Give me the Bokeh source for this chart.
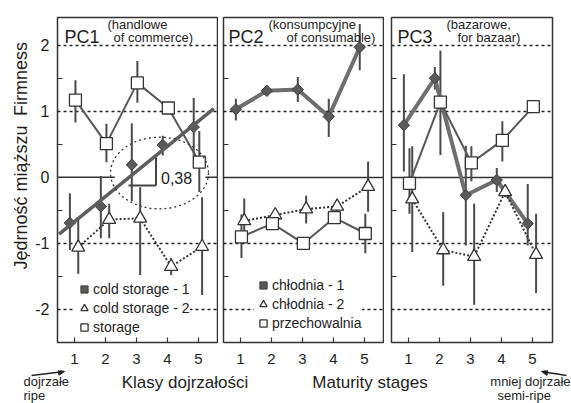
import math
from bokeh.plotting import figure
from bokeh.layouts import row, column
from bokeh.models import (Range1d, FixedTicker, Label, Arrow, NormalHead,
                          Legend, LegendItem)
from bokeh.embed import file_html
from bokeh.resources import INLINE

# ---------------- data ----------------
stages = [1, 2, 3, 4, 5]
y_ticks = [-2, -1, 0, 1, 2]
y_minor = [-1.5, -0.5, 0.5, 1.5]
y_tick_labels = {-2: "-2", -1: "-1", 0: "0", 1: "1", 2: "2"}
dashed_levels = [-2, -1, 1, 2]

# PC1 (handlowe / of commerce)
pc1_cs1 = [-0.69, -0.44, 0.19, 0.49, 0.76]
pc1_cs1_lo = [-1.10, -0.92, -0.36, 0.33, 0.32]
pc1_cs1_hi = [-0.24, 0.02, 0.82, 0.63, 1.20]
pc1_cs2 = [-1.06, -0.64, -0.62, -1.35, -1.05]
pc1_cs2_lo = [-1.46, -0.92, -1.48, -1.48, -1.78]
pc1_cs2_hi = [-0.64, -0.40, -0.15, -1.22, -0.30]
pc1_st = [1.17, 0.51, 1.43, 1.05, 0.23]
pc1_st_lo = [0.83, 0.23, 1.13, 1.05, -0.22]
pc1_st_hi = [1.47, 0.81, 1.76, 1.05, 0.70]
pc1_trend_slope = 0.38
pc1_trend_intercept = -1.05
pc1_trend_x = [0.5, 5.5]

# PC2 (konsumpcyjne / of consumable)
pc2_cs1 = [1.03, 1.31, 1.33, 0.92, 1.97]
pc2_cs1_lo = [0.86, 1.31, 1.14, 0.61, 1.62]
pc2_cs1_hi = [1.19, 1.31, 1.52, 1.19, 2.32]
pc2_cs2 = [-0.66, -0.57, -0.48, -0.44, -0.14]
pc2_cs2_lo = [-0.98, -0.65, -0.70, -0.52, -0.52]
pc2_cs2_hi = [-0.32, -0.49, -0.28, -0.36, 0.24]
pc2_st = [-0.90, -0.70, -1.00, -0.61, -0.85]
pc2_st_lo = [-1.22, -0.76, -1.00, -0.67, -1.15]
pc2_st_hi = [-0.56, -0.64, -1.00, -0.55, -0.55]

# PC3 (bazarowe / for bazaar)
pc3_cs1 = [0.79, 1.50, -0.27, -0.04, -0.70]
pc3_cs1_lo = [0.09, 1.33, -1.03, -0.22, -1.03]
pc3_cs1_hi = [1.56, 1.67, 0.48, 0.14, -0.10]
pc3_cs2 = [-0.33, -1.10, -1.20, -0.22, -1.17]
pc3_cs2_lo = [-1.13, -1.64, -1.93, -0.30, -1.75]
pc3_cs2_hi = [0.47, -0.53, -0.40, -0.14, -0.55]
pc3_st = [-0.09, 1.14, 0.22, 0.56, 1.07]
pc3_st_lo = [-0.55, 0.34, -0.06, 0.24, 1.07]
pc3_st_hi = [0.44, 1.92, 0.47, 0.85, 1.07]

# ---------------- layout helpers ----------------
FONT = "Liberation Sans"
TXT = "#1e1e1e"
FL = [57, 223, 391]      # frame left (page px)
FW = 161                 # frame width
FT, FB = 17, 342         # frame top / bottom (page px)
ROW_H = 370
X0, X1 = 0.45, 5.65
Y0, Y1 = -2.5, 2.42
DX_D, DX_T, DX_S = -0.15, 0.12, 0.03


def px_x(i, px):
    return X0 + (px - FL[i]) * (X1 - X0) / FW


def px_y(py):
    return Y1 - (py - FT) * (Y1 - Y0) / (FB - FT)


def lab(p, x, y, text, size="13px", align="left", angle=0.0):
    p.add_layout(Label(x=x, y=y, text=text, text_font=FONT, text_font_size=size,
                       text_color=TXT, text_align=align, text_baseline="middle",
                       angle=angle))


def panel(i, d, d_lo, d_hi, t, t_lo, t_hi, s, s_lo, s_hi, connect_d,
          legend_labels, title, sub1, sub2, width, bl, br, ylabels):
    p = figure(width=width, height=ROW_H, x_range=Range1d(X0, X1), y_range=Range1d(Y0, Y1),
               output_backend="svg", toolbar_location=None,
               min_border_left=bl, min_border_right=br, min_border_top=FT,
               min_border_bottom=ROW_H - FB,
               outline_line_color="#333333", outline_line_width=1.5,
               background_fill_color="white", border_fill_color="white")
    p.xgrid.visible = False
    p.ygrid.visible = False

    ax = p.xaxis[0]
    ax.ticker = FixedTicker(ticks=stages)
    ax.major_tick_in = 5
    ax.major_tick_out = 0
    ax.minor_tick_in = 0
    ax.minor_tick_out = 0
    ax.axis_line_color = None
    ax.major_tick_line_color = "#333333"
    ax.major_tick_line_width = 1.2
    ax.major_label_text_font = FONT
    ax.major_label_text_font_size = "15px"
    ax.major_label_text_color = TXT
    ax.major_label_standoff = 11

    ay = p.yaxis[0]
    ay.axis_line_color = None
    ay.major_tick_in = 0
    ay.major_tick_out = 0
    ay.minor_tick_in = 5
    ay.minor_tick_out = 0
    ay.minor_tick_line_color = "#333333"
    ay.minor_tick_line_width = 1.2
    if ylabels:
        ay.ticker = FixedTicker(ticks=y_ticks, minor_ticks=y_minor)
        ay.major_label_overrides = y_tick_labels
        ay.major_label_text_font = FONT
        ay.major_label_text_font_size = "16px"
        ay.major_label_text_color = TXT
        ay.major_label_standoff = 8
    else:
        ay.ticker = FixedTicker(ticks=[], minor_ticks=y_minor)
        ay.major_label_standoff = 0

    # reference lines
    p.hspan(y=dashed_levels, line_color="#222222", line_width=1.5, line_dash="3 3")
    if i == 0:
        p.segment(x0=[X0, px_x(0, 205)], x1=[2.3, X1], y0=[0, 0], y1=[0, 0],
                  line_color="#333333", line_width=1.5)
    else:
        p.hspan(y=[0], line_color="#333333", line_width=1.5)

    xd = [v + DX_D for v in stages]
    xt = [v + DX_T for v in stages]
    xs = [v + DX_S for v in stages]

    # error bars
    for xx, lo, hi in ((xd, d_lo, d_hi), (xt, t_lo, t_hi), (xs, s_lo, s_hi)):
        p.segment(x0=xx, x1=xx, y0=lo, y1=hi, line_color="#4a4a4a", line_width=2)

    # connecting lines
    if connect_d:
        p.line(xd, d, line_color="#6e6e6e", line_width=4)
    p.line(xs, s, line_color="#585858", line_width=2)
    p.line(xt, t, line_color="#333333", line_width=2, line_dash="2 2")

    rd = p.scatter(xd, d, marker="square", angle=math.pi / 4, size=8,
                   fill_color="#5a5a5a", line_color="#3c3c3c", line_width=1)
    rt = p.scatter(xt, t, marker="triangle", size=13, fill_color="white",
                   line_color="#333333", line_width=1.3)
    rs = p.scatter(xs, s, marker="square", size=12, fill_color="white",
                   line_color="#333333", line_width=1.3)

    # panel titles
    lab(p, px_x(i, [64, 228, 397][i]), px_y(36), title, size="18px")
    lab(p, px_x(i, [107, 268, 446][i]), px_y(24), sub1, size="13px")
    lab(p, px_x(i, [113, 286, 457][i]), px_y(36.5), sub2, size="13px")

    if legend_labels:
        items = [LegendItem(label=lbl, renderers=[r]) for lbl, r in zip(legend_labels, (rd, rt, rs))]
        loc = (18, 6) if i == 0 else (31, 10)
        lg = Legend(items=items, location=loc, orientation="vertical",
                    background_fill_color="white", background_fill_alpha=1.0,
                    border_line_color=None, padding=0, margin=0, spacing=1,
                    glyph_width=18, glyph_height=18, label_height=18, label_standoff=0,
                    label_text_font=FONT, label_text_font_size="14px", label_text_color=TXT)
        p.add_layout(lg)
    return p


f1 = panel(0, pc1_cs1, pc1_cs1_lo, pc1_cs1_hi, pc1_cs2, pc1_cs2_lo, pc1_cs2_hi,
           pc1_st, pc1_st_lo, pc1_st_hi, False,
           ["cold storage - 1", "cold storage - 2", "storage"],
           "PC1", "(handlowe", "of commerce)", 188, 27, 0, True)
f2 = panel(1, pc2_cs1, pc2_cs1_lo, pc2_cs1_hi, pc2_cs2, pc2_cs2_lo, pc2_cs2_hi,
           pc2_st, pc2_st_lo, pc2_st_hi, True,
           ["chłodnia - 1", "chłodnia - 2", "przechowalnia"],
           "PC2", "(konsumpcyjne", "of consumable)", 166, 5, 0, False)
f3 = panel(2, pc3_cs1, pc3_cs1_lo, pc3_cs1_hi, pc3_cs2, pc3_cs2_lo, pc3_cs2_hi,
           pc3_st, pc3_st_lo, pc3_st_hi, True, None,
           "PC3", "(bazarowe,", "for bazaar)", 187, 7, 19, False)

# PC1 extras: trend line, dotted ellipse, slope marker
trend_y = [pc1_trend_intercept + pc1_trend_slope * v for v in pc1_trend_x]
f1.line(pc1_trend_x, trend_y, line_color="#5e5e5e", line_width=3.5)
f1.ellipse(x=[px_x(0, 159)], y=[px_y(172.5)], width=[px_x(0, 208) - px_x(0, 110)],
           height=[px_y(136.7) - px_y(208.3)], fill_color=None, line_color="#333333",
           line_width=1.3, line_dash="2 3")
f1.segment(x0=[px_x(0, 128), px_x(0, 155.5)], y0=[px_y(185), px_y(185)],
           x1=[px_x(0, 155.5), px_x(0, 155.5)], y1=[px_y(185), px_y(157)],
           line_color="#444444", line_width=2)
lab(f1, px_x(0, 160.5), px_y(177), "0,38", size="16px")

# left strip: rotated y title (page coordinates)
fl = figure(width=30, height=ROW_H, x_range=Range1d(0, 30), y_range=Range1d(ROW_H, 0),
            x_axis_type=None, y_axis_type=None, output_backend="svg", toolbar_location=None,
            min_border=0, outline_line_color=None)
lab(fl, 20, 70, "Firmness", size="18px", align="center", angle=math.pi / 2)
lab(fl, 20, 205, "Jędrność miąższu", size="18px", align="center", angle=math.pi / 2)

# bottom strip (page coordinates)
fb = figure(width=571, height=403 - ROW_H, x_range=Range1d(0, 571), y_range=Range1d(403, ROW_H),
            x_axis_type=None, y_axis_type=None, output_backend="svg", toolbar_location=None,
            min_border=0, outline_line_color=None)
lab(fb, 23, 381, "dojrzałe", size="13px")
lab(fb, 23, 395, "ripe", size="13px")
lab(fb, 184.5, 382, "Klasy dojrzałości", size="17px", align="center")
lab(fb, 369.5, 382, "Maturity stages", size="17px", align="center")
lab(fb, 570, 381, "mniej dojrzałe", size="13px", align="right")
lab(fb, 497, 395, "semi-ripe", size="13px")
fb.add_layout(Arrow(end=NormalHead(size=6, fill_color="#222222", line_color="#222222"),
                    x_start=31, y_start=375, x_end=64, y_end=371,
                    line_color="#222222", line_width=1.5))
fb.add_layout(Arrow(end=NormalHead(size=6, fill_color="#222222", line_color="#222222"),
                    x_start=566, y_start=375, x_end=541, y_end=371,
                    line_color="#222222", line_width=1.5))

layout = column(row(fl, f1, f2, f3), fb)
open("out.html", "w").write(file_html(layout, INLINE))
